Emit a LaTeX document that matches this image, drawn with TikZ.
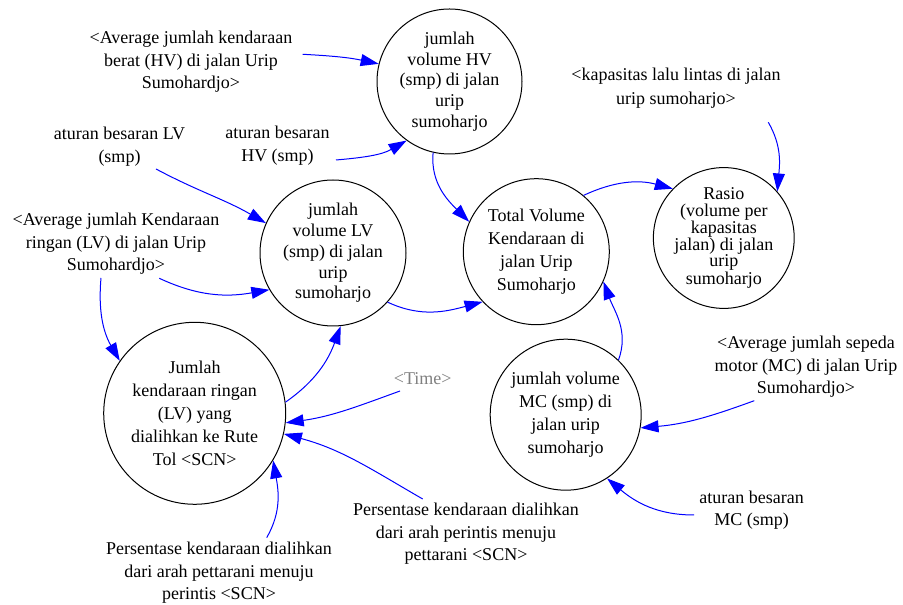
\documentclass[tikz,border=0pt]{standalone}
\usepackage{fontspec}
\setmainfont{Liberation Serif}
\usetikzlibrary{arrows.meta}
\tikzset{
	every node/.style={font=\fontsize{18}{22.5}\selectfont},
	var/.style={circle,draw,line width=1pt,minimum size=#1,inner sep=0pt,align=center},
	lbl/.style={align=center,inner sep=0pt},
	link/.style={draw=blue,line width=1pt,-{Triangle[length=18pt,width=12pt,fill=blue]}},
}
\begin{document}
\begin{tikzpicture}[x=1pt,y=1pt]
	\useasboundingbox (0,0) rectangle (903,605);
	% variables
	\node[var=145,font=\fontsize{18}{20.7}\selectfont] (hv) at (449.5,523.5) {jumlah\\volume HV\\(smp) di jalan\\urip\\sumoharjo};
	\node[var=146,font=\fontsize{18}{20.7}\selectfont] (lv) at (333,352) {jumlah\\volume LV\\(smp) di jalan\\urip\\sumoharjo};
	\node[var=146,font=\fontsize{18}{22.8}\selectfont] (tot) at (536.3,353.3) {Total Volume\\Kendaraan di\\jalan Urip\\Sumoharjo};
	\node[var=136,font=\fontsize{18}{16.2}\selectfont] (rasio) at (723.8,367) {Rasio\\(volume per\\kapasitas\\jalan) di jalan\\urip\\sumoharjo};
	\node[var=182,font=\fontsize{18}{23}\selectfont] (ringan) at (194.7,191.7) {Jumlah\\kendaraan ringan\\(LV) yang\\dialihkan ke Rute\\Tol <SCN>};
	\node[var=151,font=\fontsize{18}{22.9}\selectfont] (mc) at (565.7,190.3) {jumlah volume\\MC (smp) di\\jalan urip\\sumoharjo};
	
	% constants and shadow variables
	\node[lbl] (avgHV) at (191,543) {<Average jumlah kendaraan\\berat (HV) di jalan Urip\\Sumohardjo>};
	\node[lbl] (aturanLV) at (119.5,458.5) {aturan besaran LV\\(smp)};
	\node[lbl] (aturanHV) at (277.5,459.5) {aturan besaran\\HV (smp)};
	\node[lbl] (avgLV) at (116,361) {<Average jumlah Kendaraan\\ringan (LV) di jalan Urip\\Sumohardjo>};
	\node[lbl,font=\fontsize{18}{24}\selectfont] (kapasitas) at (676,517) {<kapasitas lalu lintas di jalan\\urip sumoharjo>};
	\node[lbl,text=gray] (time) at (422.7,226.7) {<Time>};
	\node[lbl] (pettPer) at (219,32) {Persentase kendaraan dialihkan\\dari arah pettarani menuju\\perintis <SCN>};
	\node[lbl] (perPett) at (466,71.3) {Persentase kendaraan dialihkan\\dari arah perintis menuju\\pettarani <SCN>};
	\node[lbl] (avgMC) at (806,238) {<Average jumlah sepeda\\motor (MC) di jalan Urip\\Sumohardjo>};
	\node[lbl] (aturanMC) at (751.7,95) {aturan besaran\\MC (smp)};
	
	% links
	\draw[link] ([shift={(111.7,7.7)}]avgHV.center) to[out=-3,in=168] (hv.166.6);
	\draw[link] ([shift={(58.5,-14.5)}]aturanHV.center) to[out=5,in=210] (hv.234.5);
	\draw[link] (hv.257.5) to[out=265,in=135] (tot.156.3);
	\draw[link] ([shift={(36.5,-22.5)}]aturanLV.center) to[out=-28,in=150] (lv.156.7);
	\draw[link] ([shift={(43.3,-34.3)}]avgLV.center) to[out=-25,in=190] (lv.210.7);
	\draw[link] ([shift={(-15,-34)}]avgLV.center) to[out=-95,in=120] (ringan.145.4);
	\draw[link] (lv.-42.3) to[out=-25,in=195] (tot.223.3);
	\draw[link] (ringan.7.8) to[out=35,in=250] (lv.276.7);
	\draw[link] ([shift={(-22.7,-12.7)}]time.center) to[out=200,in=8] (ringan.-6.6);
	\draw[link] ([shift={(-43.3,34.7)}]perPett.center) to[out=150,in=-15] (ringan.-13.4);
	\draw[link] ([shift={(47.7,35.3)}]pettPer.center) to[out=60,in=-80] (ringan.-31);
	\draw[link] (tot.50.7) to[out=25,in=165] (rasio.136.3);
	\draw[link] ([shift={(92.3,-34.3)}]kapasitas.center) to[out=-60,in=85] (rasio.41.2);
	\draw[link] (mc.46.8) to[out=70,in=-70] (tot.-24.7);
	\draw[link] ([shift={(-51.7,-33.7)}]avgMC.center) to[out=200,in=5] (mc.-10);
	\draw[link] ([shift={(-57.7,-5)}]aturanMC.center) to[out=180,in=-40] (mc.-57.6);
\end{tikzpicture}
\end{document}
